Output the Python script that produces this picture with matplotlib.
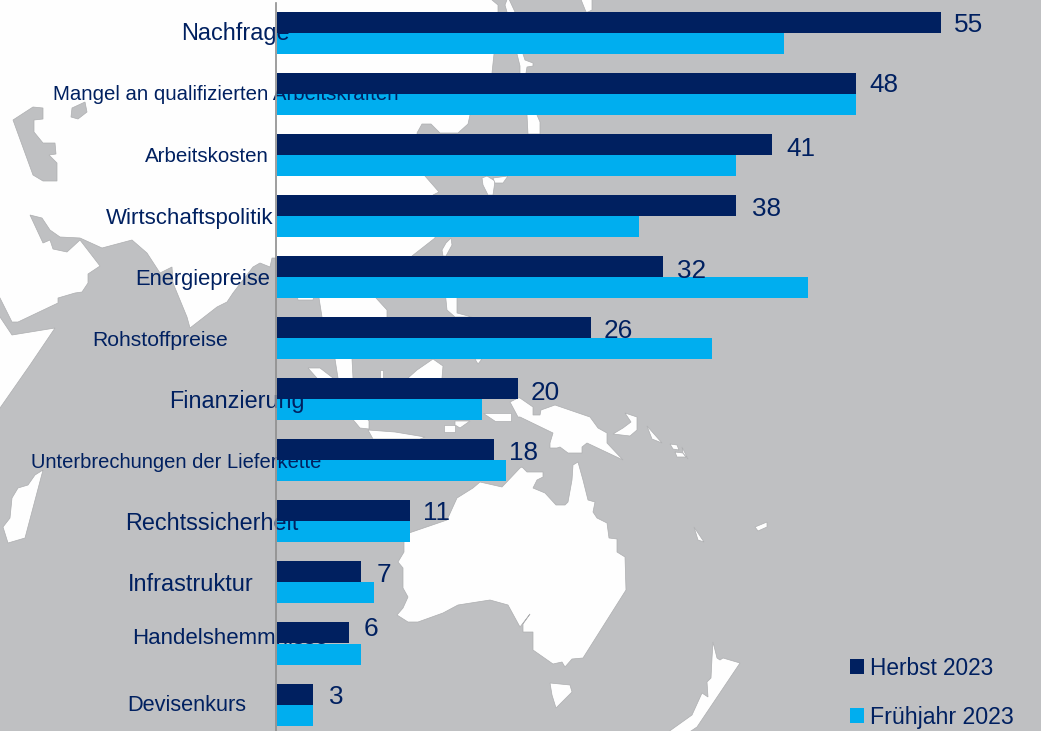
import matplotlib
matplotlib.use("Agg")
import matplotlib.pyplot as plt
from matplotlib.patches import Polygon, Rectangle

plt.rcParams['font.family'] = ['Liberation Sans', 'DejaVu Sans']

W, H = 1041, 731
NAVY, CYAN = '#002060', '#00AEEF'
GREY, WHITE = '#BFC0C2', '#FEFEFE'

categories = ['Nachfrage', 'Mangel an qualifizierten Arbeitskräften', 'Arbeitskosten',
              'Wirtschaftspolitik', 'Energiepreise', 'Rohstoffpreise', 'Finanzierung',
              'Unterbrechungen der Lieferkette', 'Rechtssicherheit', 'Infrastruktur',
              'Handelshemmnisse', 'Devisenkurs']
herbst_2023 = [55, 48, 41, 38, 32, 26, 20, 18, 11, 7, 6, 3]
fruehjahr_2023 = [42, 48, 38, 30, 44, 36, 17, 19, 11, 8, 7, 3]

# label layout: centre x in px, centre y in px, font size
label_cx = [235, 226, 207, 190, 203, 160, 237, 176, 212, 191, 230, 187]
label_cy = [31, 93, 155, 216, 277, 338, 399, 460, 521, 582, 636, 703]
label_fs = [16.9, 14.65, 14.8, 16.0, 15.8, 15.2, 16.8, 14.5, 16.8, 16.9, 16.0, 15.7]
# value labels: left x and centre y in px
value_x = [954, 869, 786, 752, 677, 604, 531, 509, 423, 377, 364, 329]
value_cy = [23, 82, 146, 207, 268, 329, 390, 451, 511, 573, 626, 695]

# decorative background map, in picture pixels
land_main = [(-5, -5), (492, -5), (492, 0), (498, 5), (498, 12), (494, 54), (492, 73), (470, 115), (468, 124),
             (458, 133), (440, 133), (431, 124), (422, 124), (417, 133), (425, 176), (439, 192),
             (433, 195), (435, 238), (412, 256), (405, 270), (376, 298), (387, 310), (387, 317),
             (352, 359), (353, 378), (345, 385), (340, 385), (338, 378), (335, 359), (322, 317),
             (319, 298), (316, 285), (313, 300), (298, 300), (295, 285), (285, 262), (277, 258),
             (272, 258), (270, 267), (260, 263), (253, 267), (233, 293), (227, 302), (217, 307),
             (190, 328), (187, 317), (173, 283), (172, 267), (160, 273), (147, 253), (132, 240),
             (102, 248), (80, 238), (60, 237), (50, 230), (42, 218), (30, 215), (43, 243),
             (50, 240), (53, 249), (67, 252), (80, 240), (100, 266), (88, 274), (88, 283),
             (82, 292), (75, 293), (58, 298), (58, 303), (18, 322), (12, 322), (0, 298), (-5, 290),
             (-5, 310), (0, 317), (12, 335), (55, 328), (30, 365), (0, 408), (-5, 415)]
land_other = [
    [(505, 5), (508, -3), (515, 12), (523, 54), (525, 60), (533, 63), (533, 66), (527, 67), (526, 73),
     (537, 115), (540, 122), (540, 134), (528, 134), (527, 115), (520, 73), (520, 66), (517, 54), (507, 12)],
    [(580, -3), (592, -3), (592, 10), (588, 12), (586, 12)],
    [(482, 178), (487, 176), (495, 181), (493, 195), (488, 195), (483, 185)],
    [(493, 178), (508, 176), (503, 183), (495, 183)],
    [(446, 243), (451, 238), (452, 245), (446, 256), (443, 256), (442, 250)],
    [(445, 290), (457, 290), (457, 313), (472, 317), (455, 317), (447, 310)],
    [(308, 368), (320, 368), (333, 378), (369, 421), (369, 429), (360, 428), (345, 410)],
    [(368, 430), (395, 432), (425, 437), (420, 439), (373, 439)],
    [(408, 378), (417, 370), (433, 359), (443, 366), (442, 378), (440, 410), (415, 410)],
    [(380, 370), (383, 370), (383, 378), (380, 378)],
    [(475, 359), (482, 359), (478, 364)],
    [(483, 413), (511, 413), (511, 421), (495, 421)],
    [(444, 425), (455, 425), (455, 432), (444, 432)],
    [(455, 421), (470, 421), (460, 428), (455, 425)],
    [(510, 402), (518, 398), (520, 398), (533, 407), (533, 415), (540, 415), (541, 410), (555, 405),
     (590, 417), (598, 428), (607, 433), (607, 443), (623, 460), (587, 443), (582, 447), (582, 453),
     (568, 453), (560, 447), (557, 448), (550, 448), (550, 443), (553, 433), (520, 417), (518, 417)],
    [(625, 413), (637, 417), (637, 430), (630, 436), (613, 434), (623, 428), (631, 422)],
    [(647, 426), (662, 443), (652, 439)],
    [(670, 444), (677, 445), (679, 450), (673, 449)],
    [(675, 452), (683, 453), (686, 457), (677, 457)],
    [(682, 447), (688, 459), (683, 453)],
    [(694, 527), (704, 542), (698, 540)],
    [(755, 527), (767, 522), (767, 527), (758, 531)],
    [(573, 465), (578, 462), (583, 480), (588, 500), (595, 502), (593, 512), (597, 518), (607, 523),
     (609, 538), (617, 539), (617, 552), (625, 557), (626, 590), (583, 658), (572, 659), (565, 667),
     (562, 662), (553, 664), (533, 650), (533, 632), (523, 632), (523, 624), (530, 614), (520, 627),
     (508, 605), (490, 600), (458, 605), (443, 613), (418, 622), (408, 622), (397, 615), (403, 608),
     (408, 597), (403, 588), (403, 568), (398, 562), (404, 552), (404, 542), (409, 533), (447, 520),
     (457, 498), (473, 488), (480, 482), (502, 487), (520, 468), (522, 467), (527, 472), (543, 472),
     (543, 477), (537, 480), (533, 488), (545, 493), (556, 505), (565, 505), (568, 502), (572, 480)],
    [(550, 683), (570, 685), (572, 692), (556, 708), (552, 695)],
    [(713, 642), (717, 658), (720, 660), (723, 658), (740, 663), (697, 727), (685, 735), (664, 735),
     (692, 715), (702, 693), (708, 697), (707, 682), (711, 678), (712, 658)],
    [(43, 470), (25, 538), (8, 543), (3, 527), (10, 518), (12, 498), (18, 488), (28, 485), (35, 475)],
]
water = [
    [(13, 120), (33, 107), (43, 108), (43, 119), (34, 120), (34, 132), (43, 143), (55, 143),
     (56, 154), (49, 155), (57, 163), (57, 181), (43, 181), (33, 175)],
    [(72, 108), (85, 102), (87, 112), (78, 119), (71, 117)],
]

fig = plt.figure(figsize=(W / 100, H / 100), dpi=100, facecolor=GREY)

bg = fig.add_axes([0, 0, 1, 1], zorder=0)
bg.set_xlim(0, W)
bg.set_ylim(H, 0)
bg.axis('off')
bg.add_patch(Rectangle((0, 0), W, H, fc=GREY, ec='none'))
for pts in [land_main] + land_other:
    bg.add_patch(Polygon(pts, closed=True, fc=WHITE, ec='#ADAEB0', lw=0.5))
for pts in water:
    bg.add_patch(Polygon(pts, closed=True, fc=GREY, ec='#ADAEB0', lw=0.5))

ax = fig.add_axes([0, 0, 1, 1], zorder=1)
ax.patch.set_alpha(0)
px_per_unit = 12.07
row_px = 61.05
ax.set_xlim(-277 / px_per_unit, (W - 277) / px_per_unit)
ax.set_ylim((H - 33) / row_px, -33 / row_px)
ax.axis('off')

ys = list(range(len(categories)))
bar_h = 21 / row_px
ax.barh([y + bar_h / 2 for y in ys], fruehjahr_2023, height=bar_h, color=CYAN, zorder=2)
ax.barh([y - bar_h / 2 for y in ys], herbst_2023, height=bar_h, color=NAVY, zorder=4)

ax.plot([-0.1, -0.1], [(3 - 33) / row_px, (H - 33) / row_px], color='#8E8E8E', lw=1.2, zorder=5)

for y, name, cx, cy, fs in zip(ys, categories, label_cx, label_cy, label_fs):
    ax.annotate(name, (0, y), xytext=(cx - 277, -(cy - (33 + y * row_px))),
                textcoords='offset pixels', ha='center', va='center_baseline',
                fontsize=fs, color=NAVY, zorder=3)
for y, v, vx, cy in zip(ys, herbst_2023, value_x, value_cy):
    ax.annotate(str(v), (v, y), xytext=(vx - (277 + v * px_per_unit), -(cy - (33 + y * row_px))),
                textcoords='offset pixels', ha='left', va='center_baseline',
                fontsize=18.8, color=NAVY, zorder=6)

# legend
bg_leg = [('Herbst 2023', NAVY, 659, 666, 16.3), ('Frühjahr 2023', CYAN, 708, 715, 16.7)]
for name, col, top, cy, fs in bg_leg:
    fig.patches.append(Rectangle((850 / W, 1 - (top + 15) / H), 14 / W, 15 / H, fc=col, ec='none',
                                 transform=fig.transFigure, figure=fig))
    fig.text(870 / W, 1 - cy / H, name, color=NAVY, fontsize=fs, ha='left', va='center_baseline')

fig.savefig('out.png', dpi=100, facecolor=GREY)
